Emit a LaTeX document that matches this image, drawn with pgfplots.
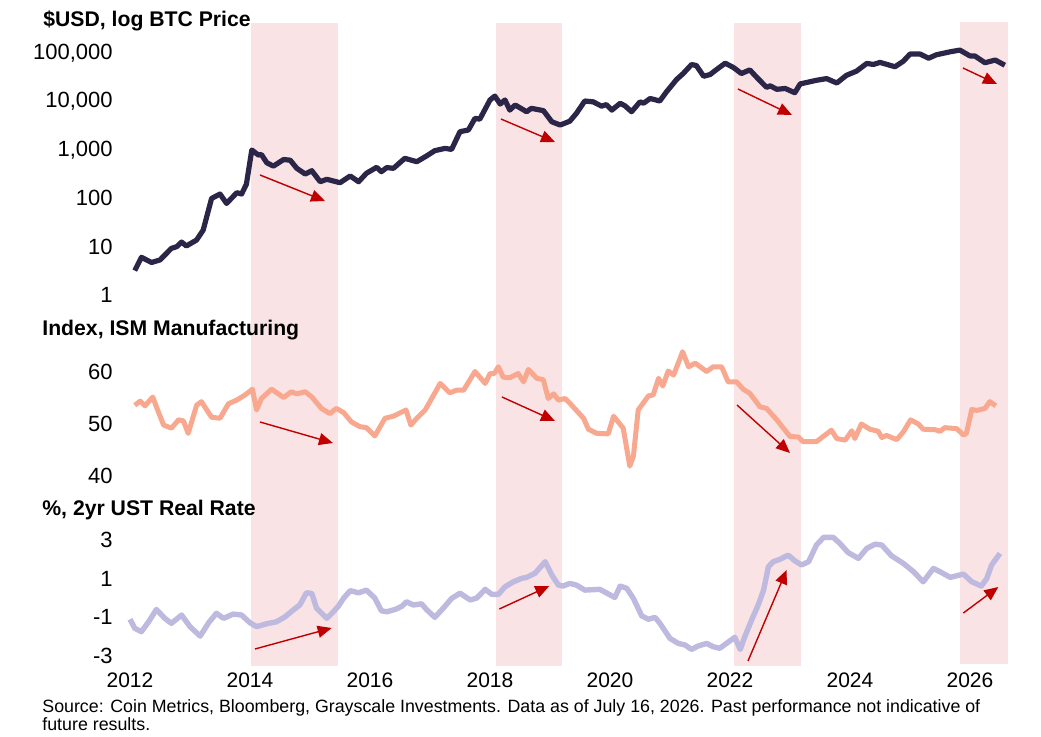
\documentclass[border=0pt]{standalone}
\usepackage{fontspec}
\setmainfont{Liberation Sans}
\usepackage{pgfplots}
\pgfplotsset{compat=1.18}
\usetikzlibrary{arrows.meta}
\definecolor{btc}{HTML}{2B2547}
\definecolor{ism}{HTML}{F9A890}
\definecolor{rr}{HTML}{BEBADF}
\definecolor{band}{HTML}{F9E3E4}
\definecolor{arr}{HTML}{C00000}
\pgfplotsset{
  frame/.style={at={(0pt,0pt)}, anchor=south west, scale only axis,
    width=520.5pt, height=368pt, xmin=2009.8333, xmax=2027.1833,
    ymin=0, ymax=736, y dir=reverse, hide axis, clip=false},
  panel/.style={scale only axis, width=441pt, xmin=2012, xmax=2026.7,
    clip=false, axis line style={draw=none}, major tick length=0pt,
    tick style={draw=none}, xtick=\empty,
    xticklabel style={font=\fontsize{10.5}{12}\selectfont},
    yticklabel style={anchor=east, inner sep=0pt, xshift=-8.5pt, font=\fontsize{11}{12}\selectfont}}
}
\tikzset{redarrow/.style={draw=arr, line width=0.7pt, -{Triangle[length=7pt,width=6pt]}}}
\begin{document}
\begin{tikzpicture}
\useasboundingbox (0,0) rectangle (520.5pt,368pt);
% shaded periods
\begin{axis}[frame]
\addplot[fill=band, draw=none] coordinates {(2014.02,23) (2015.47,23) (2015.47,666) (2014.02,666)} -- cycle;
\addplot[fill=band, draw=none] coordinates {(2018.10,23) (2019.20,23) (2019.20,666) (2018.10,666)} -- cycle;
\addplot[fill=band, draw=none] coordinates {(2022.07,23) (2023.18,23) (2023.18,666) (2022.07,666)} -- cycle;
\addplot[fill=band, draw=none] coordinates {(2025.83,22) (2026.63,22) (2026.63,664) (2025.83,664)} -- cycle;
\end{axis}
% BTC
\begin{axis}[panel, at={(65pt,220.5pt)}, anchor=south west, height=128.25pt,
  ymode=log, ymin=1, ymax=199526,
  ytick={1,10,100,1000,10000,100000},
  yticklabels={1,10,100,{1,000},{10,000},{100,000}}]
\addplot[btc, line width=2.6pt, line join=round] coordinates {
(2012.08,3.2) (2012.19,6.0) (2012.36,4.7) (2012.5,5.3) (2012.69,9.2) (2012.78,10) (2012.86,12.4) (2012.94,10.3)
(2013.11,13.7) (2013.22,22) (2013.36,99) (2013.5,122) (2013.61,78) (2013.78,130) (2013.86,122) (2013.94,195)
(2014.03,990) (2014.14,780) (2014.19,800) (2014.28,540) (2014.39,460) (2014.56,630) (2014.67,610) (2014.78,415)
(2014.92,316) (2015.03,370) (2015.17,219) (2015.28,246) (2015.5,209) (2015.67,288) (2015.81,219) (2015.94,327)
(2016.11,435) (2016.19,353) (2016.28,430) (2016.39,414) (2016.58,667) (2016.78,568) (2016.94,743)
(2017.08,960) (2017.25,1070) (2017.36,1020) (2017.5,2370) (2017.64,2570) (2017.75,4470) (2017.83,4300)
(2018.0,10700) (2018.08,12900) (2018.17,8830) (2018.25,10700) (2018.33,6610) (2018.42,8430) (2018.61,6120)
(2018.69,7190) (2018.89,6450) (2019.03,3800) (2019.17,3250) (2019.33,3900) (2019.44,5660) (2019.58,10200)
(2019.72,9800) (2019.86,7980) (2019.94,8600) (2020.03,6610) (2020.17,9150) (2020.25,8100) (2020.36,6120)
(2020.5,9800) (2020.56,9200) (2020.67,11500) (2020.83,10200) (2020.94,15700) (2021.11,28400) (2021.22,37700)
(2021.36,57900) (2021.44,55000) (2021.56,33100) (2021.67,36000) (2021.78,46000) (2021.92,61600)
(2022.06,50000) (2022.19,37700) (2022.33,44800) (2022.44,32000) (2022.61,19500) (2022.67,21000)
(2022.78,17800) (2022.92,18500) (2023.08,15100) (2023.17,23000) (2023.44,27300) (2023.61,29600)
(2023.78,24000) (2023.94,34600) (2024.11,42300) (2024.28,61000) (2024.39,58000) (2024.5,64000)
(2024.75,52000) (2024.89,68000) (2025.0,95000) (2025.17,95000) (2025.31,78000) (2025.44,92000)
(2025.67,106000) (2025.83,115000) (2026.0,87000) (2026.08,87000) (2026.25,63000) (2026.42,71600) (2026.58,56000)
};
\end{axis}
% ISM
\begin{axis}[panel, at={(65pt,130pt)}, anchor=south west, height=65pt,
  ymin=40, ymax=65, ytick={40,50,60}, yticklabels={40,50,60}]
\addplot[ism, line width=2.5pt, line join=round] coordinates {
(2012.08,53.6) (2012.17,54.4) (2012.25,53.5) (2012.38,55.2) (2012.44,53.3) (2012.56,49.8) (2012.69,49.2)
(2012.81,50.8) (2012.89,50.6) (2012.97,48.2) (2013.11,53.6) (2013.19,54.3) (2013.36,51.3) (2013.5,51.1)
(2013.64,53.9) (2013.78,54.6) (2013.92,55.6) (2014.04,56.7) (2014.11,52.7) (2014.19,54.9) (2014.36,56.7)
(2014.56,55.1) (2014.69,56.2) (2014.78,55.8) (2014.92,56.2) (2015.03,55.2) (2015.19,53.0) (2015.33,52.0)
(2015.44,53.0) (2015.56,52.2) (2015.69,50.4) (2015.83,49.5) (2015.94,49.3) (2016.08,47.7) (2016.25,51.1)
(2016.39,51.5) (2016.6,52.7) (2016.68,49.8) (2016.78,51.1) (2016.92,52.7) (2017.17,57.8) (2017.33,56.0)
(2017.44,56.5) (2017.56,56.5) (2017.75,60.1) (2017.92,57.8) (2018.0,59.7) (2018.07,59.7) (2018.14,61.0)
(2018.22,59.0) (2018.33,58.9) (2018.47,59.7) (2018.56,58.1) (2018.64,60.5) (2018.78,58.8) (2018.89,58.5)
(2018.97,54.9) (2019.06,55.8) (2019.14,54.6) (2019.25,54.9) (2019.33,54.0) (2019.56,51.1) (2019.64,49.0)
(2019.78,48.2) (2019.97,48.1) (2020.06,51.5) (2020.22,49.2) (2020.33,41.9) (2020.39,43.8) (2020.47,52.7)
(2020.64,55.4) (2020.72,55.6) (2020.81,58.8) (2020.88,57.3) (2020.97,60.2) (2021.06,59.4) (2021.21,63.9)
(2021.31,61.0) (2021.42,61.7) (2021.61,60.1) (2021.72,61.0) (2021.86,61.0) (2021.97,58.1) (2022.11,58.1)
(2022.22,56.7) (2022.33,55.9) (2022.39,55.0) (2022.5,53.3) (2022.61,53.0) (2022.78,50.8) (2023.0,47.6)
(2023.14,47.5) (2023.22,46.6) (2023.44,46.6) (2023.69,48.8) (2023.78,47.2) (2023.92,46.9) (2024.03,48.7)
(2024.08,47.2) (2024.19,50.0) (2024.33,49.0) (2024.47,48.6) (2024.53,47.4) (2024.61,47.8) (2024.78,47.0)
(2024.89,48.5) (2025.01,50.8) (2025.14,50.0) (2025.22,49.0) (2025.42,48.9) (2025.5,48.6) (2025.58,49.3)
(2025.78,49.1) (2025.89,47.9) (2025.94,48.2) (2026.03,52.8) (2026.11,52.6) (2026.25,53.0) (2026.33,54.3) (2026.43,53.5)
};
\end{axis}
% Real rate
\begin{axis}[panel, at={(65pt,40pt)}, anchor=south west, height=59.9pt,
  ymin=-3, ymax=3.2, ytick={-3,-1,1,3}, yticklabels={-3,-1,1,3},
  xtick={2012,2014,2016,2018,2020,2022,2024,2026},
  xticklabels={2012,2014,2016,2018,2020,2022,2024,2026},
  xticklabel style={anchor=north, inner sep=0pt, yshift=-8.25pt}]
\addplot[rr, line width=2.7pt, line join=round] coordinates {
(2012.0,-1.1) (2012.08,-1.57) (2012.19,-1.74) (2012.31,-1.23) (2012.44,-0.59) (2012.58,-1.05) (2012.69,-1.31)
(2012.86,-0.88) (2013.0,-1.48) (2013.17,-1.97) (2013.31,-1.28) (2013.44,-0.79) (2013.56,-1.05) (2013.72,-0.83)
(2013.86,-0.88) (2014.0,-1.28) (2014.11,-1.48) (2014.28,-1.33) (2014.44,-1.23) (2014.58,-0.98) (2014.72,-0.62)
(2014.83,-0.36) (2014.94,0.27) (2015.03,0.24) (2015.11,-0.53) (2015.28,-1.05) (2015.39,-0.71) (2015.47,-0.43)
(2015.56,-0.01) (2015.67,0.38) (2015.81,0.27) (2015.94,0.41) (2016.08,0.0) (2016.19,-0.66) (2016.28,-0.71)
(2016.42,-0.59) (2016.53,-0.43) (2016.61,-0.19) (2016.72,-0.36) (2016.86,-0.3) (2016.94,-0.59) (2017.08,-1.0)
(2017.22,-0.53) (2017.36,-0.02) (2017.5,0.25) (2017.67,-0.1) (2017.78,0.0) (2017.92,0.45) (2018.03,0.19)
(2018.14,0.19) (2018.25,0.58) (2018.39,0.84) (2018.53,1.02) (2018.61,1.07) (2018.75,1.28) (2018.92,1.88)
(2019.03,1.19) (2019.14,0.67) (2019.22,0.62) (2019.33,0.76) (2019.44,0.67) (2019.58,0.41) (2019.83,0.45)
(2020.08,0.03) (2020.17,0.62) (2020.28,0.5) (2020.39,-0.02) (2020.53,-0.93) (2020.64,-1.1) (2020.75,-1.0)
(2020.83,-1.3) (2021.0,-2.09) (2021.14,-2.35) (2021.25,-2.43) (2021.36,-2.66) (2021.47,-2.48) (2021.61,-2.35)
(2021.72,-2.52) (2021.83,-2.6) (2021.94,-2.35) (2022.08,-2.03) (2022.17,-2.66) (2022.25,-1.97) (2022.36,-1.14)
(2022.47,-0.36) (2022.56,0.41) (2022.64,1.62) (2022.72,1.88) (2022.83,2.0) (2022.97,2.22) (2023.08,1.93)
(2023.19,1.71) (2023.31,1.88) (2023.44,2.74) (2023.56,3.14) (2023.72,3.14) (2023.83,2.83) (2023.97,2.35)
(2024.14,2.05) (2024.28,2.57) (2024.42,2.79) (2024.53,2.74) (2024.69,2.19) (2024.89,1.79) (2025.06,1.36)
(2025.22,0.84) (2025.39,1.53) (2025.5,1.36) (2025.67,1.07) (2025.89,1.24) (2026.03,0.84) (2026.19,0.62)
(2026.28,1.02) (2026.36,1.71) (2026.5,2.31)
};
\end{axis}
% arrows
\begin{axis}[frame]
\draw[redarrow] (axis cs:2014.167,175) -- (axis cs:2015.25,201);
\draw[redarrow] (axis cs:2018.183,119) -- (axis cs:2019.083,142);
\draw[redarrow] (axis cs:2022.133,89) -- (axis cs:2023.033,115);
\draw[redarrow] (axis cs:2025.883,68) -- (axis cs:2026.45,84);
\draw[redarrow] (axis cs:2014.167,422) -- (axis cs:2015.383,443);
\draw[redarrow] (axis cs:2018.2,397) -- (axis cs:2019.083,421);
\draw[redarrow] (axis cs:2022.117,405) -- (axis cs:2023.0,453);
\draw[redarrow] (axis cs:2014.083,649) -- (axis cs:2015.361,628);
\draw[redarrow] (axis cs:2018.155,609) -- (axis cs:2018.988,586);
\draw[redarrow] (axis cs:2022.3,661) -- (axis cs:2022.944,570);
\draw[redarrow] (axis cs:2025.889,613) -- (axis cs:2026.472,587);
\end{axis}
% titles and source
\node[anchor=base west, inner sep=0pt, font=\fontsize{10.6}{12}\selectfont\bfseries] at (21.5pt,355pt) {\$USD, log BTC Price};
\node[anchor=base west, inner sep=0pt, font=\fontsize{10.6}{12}\selectfont\bfseries] at (21pt,200.5pt) {Index, ISM Manufacturing};
\node[anchor=base west, inner sep=0pt, font=\fontsize{10.6}{12}\selectfont\bfseries] at (21pt,110.5pt) {\%, 2yr UST Real Rate};
\node[anchor=base west, inner sep=0pt, font=\fontsize{8.9}{9}\selectfont] at (21pt,11.7pt) {Source: Coin Metrics, Bloomberg, Grayscale Investments. Data as of July 16, 2026. Past performance not indicative of};
\node[anchor=base west, inner sep=0pt, font=\fontsize{8.9}{9}\selectfont] at (21pt,2.7pt) {future results.};
\end{tikzpicture}
\end{document}
